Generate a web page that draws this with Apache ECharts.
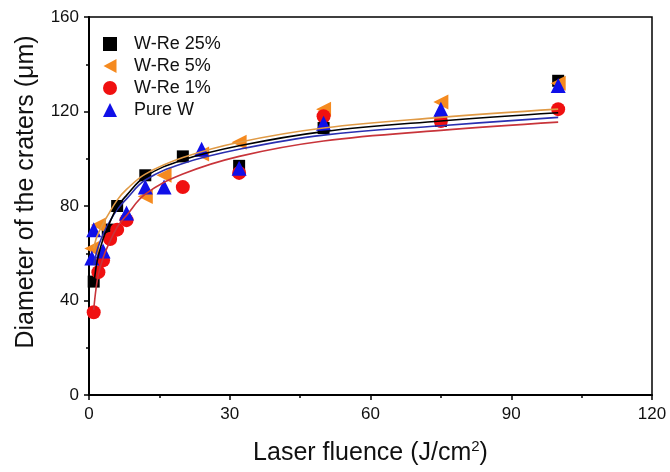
<!DOCTYPE html>
<html>
<head>
<meta charset="utf-8">
<script src="https://cdn.jsdelivr.net/npm/echarts@6/dist/echarts.min.js"></script>
<style>
  html, body { margin: 0; padding: 0; background: #fff; }
  #main { width: 670px; height: 472px; }
</style>
</head>
<body>
<div id="main"></div>
<script>
// measured points
let x25 = [1, 4, 6, 12, 20, 32, 50, 75, 100];
let y25 = [48, 70, 80, 93, 101, 97, 113, 116, 133];

let x5 = [0.6, 2, 4, 12, 16, 24, 32, 50, 75, 100];
let y5 = [62, 72, 67, 84, 93, 102, 107, 121, 124, 132];

let x1 = [1, 2, 3, 4.5, 6, 8, 20, 32, 50, 75, 100];
let y1 = [35, 52, 57, 66, 70, 74, 88, 94, 118, 116, 121];

let xW = [1, 0.6, 3, 8, 12, 16, 24, 32, 50, 75, 100];
let yW = [70, 58, 61, 77, 88, 88, 104, 96, 115, 121, 131];

// fitted curves
let fitX = [1, 1.5, 2, 3, 4, 6, 8, 12, 20, 32, 50, 75, 100];
let fit25 = [46, 54, 59, 66, 71, 79.5, 84.5, 92.5, 99.5, 105.5, 111.5, 116, 119.5];
let fit5 = [62, 66, 68.5, 72.5, 76, 82.5, 87, 93.5, 100.5, 107, 113, 117.5, 121];
let fit1 = [36, 45, 51, 58, 63, 71, 76, 85, 93.5, 101, 107.5, 112, 115.5];
let fitW = [55, 59.5, 63, 68, 72, 78.5, 83, 91, 98, 104, 110, 114, 117.5];

let xTicks = [0, 30, 60, 90, 120];
let yTicks = [0, 40, 80, 120, 160];

function pairs(xs, ys) {
  return xs.map((x, i) => [x, ys[i]]);
}

let font = "'Liberation Sans', Arial, sans-serif";
let myChart = echarts.init(document.getElementById("main"));

function fitLine(name, ys, color) {
  return {
    name: name,
    type: "line",
    data: pairs(fitX, ys),
    smooth: 0.4,
    showSymbol: false,
    lineStyle: { color: color, width: 1.6 },
    z: 5,
    silent: true,
  };
}

function scatter(name, xs, ys, symbol, color, size, rotate) {
  return {
    name: name,
    type: "scatter",
    data: pairs(xs, ys),
    symbol: symbol,
    symbolSize: size,
    symbolRotate: rotate || 0,
    itemStyle: { color: color, opacity: 1 },
    z: 3,
  };
}

myChart.setOption({
  animation: false,
  backgroundColor: "#fff",
  textStyle: { fontFamily: font },
  grid: {
    left: 89,
    right: 18,
    top: 17,
    bottom: 77,
    show: true,
    borderColor: "#000",
    borderWidth: 1.5,
  },
  legend: {
    orient: "vertical",
    left: 98,
    top: 30,
    itemWidth: 14,
    itemHeight: 14,
    itemGap: 4,
    data: [
      { name: "W-Re 25%" },
      // left-pointing triangle
      { name: "W-Re 5%", icon: "path://M0,7 L13,0 L13,14 Z" },
      { name: "W-Re 1%" },
      { name: "Pure W" },
    ],
    textStyle: { fontFamily: font, fontSize: 18, color: "#111", padding: [0, 0, 0, 12] },
  },
  xAxis: {
    type: "value",
    min: xTicks[0],
    max: xTicks[xTicks.length - 1],
    interval: 30,
    name: "Laser fluence (J/cm{sup|2})",
    nameLocation: "middle",
    nameGap: 44,
    nameTextStyle: {
      fontFamily: font,
      fontSize: 25,
      color: "#111",
      rich: { sup: { fontSize: 15, verticalAlign: "top", padding: [0, 0, 14, 0] } },
    },
    axisLine: { lineStyle: { color: "#000", width: 2 } },
    axisTick: { inside: false, length: 5, lineStyle: { width: 1.5 } },
    minorTick: { show: true, splitNumber: 2, length: 3, lineStyle: { color: "#000", width: 1.5 } },
    axisLabel: { fontFamily: font, fontSize: 17, color: "#111", margin: 11 },
    splitLine: { show: false },
  },
  yAxis: {
    type: "value",
    min: yTicks[0],
    max: yTicks[yTicks.length - 1],
    interval: 40,
    name: "Diameter of the craters (\u03bcm)",
    nameLocation: "middle",
    nameGap: 50,
    nameTextStyle: { fontFamily: font, fontSize: 25, color: "#111", padding: [0, 0, 0, 28] },
    axisLine: { lineStyle: { color: "#000", width: 2 } },
    axisTick: { inside: false, length: 5, lineStyle: { width: 1.5 } },
    minorTick: { show: true, splitNumber: 2, length: 3, lineStyle: { color: "#000", width: 1.5 } },
    axisLabel: { fontFamily: font, fontSize: 17, color: "#111", margin: 10 },
    splitLine: { show: false },
  },
  series: [
    scatter("W-Re 25%", x25, y25, "rect", "#000000", 12),
    scatter("W-Re 5%", x5, y5, "triangle", "#F58A1F", 15, 90),
    scatter("W-Re 1%", x1, y1, "circle", "#F01010", 14),
    scatter("Pure W", xW, yW, "triangle", "#1010E8", 15),
    fitLine("fit 1%", fit1, "#C8343A"),
    fitLine("fit W", fitW, "#2A2FB0"),
    fitLine("fit 25%", fit25, "#000000"),
    fitLine("fit 5%", fit5, "#E09A45"),
  ],
});
</script>
</body>
</html>
